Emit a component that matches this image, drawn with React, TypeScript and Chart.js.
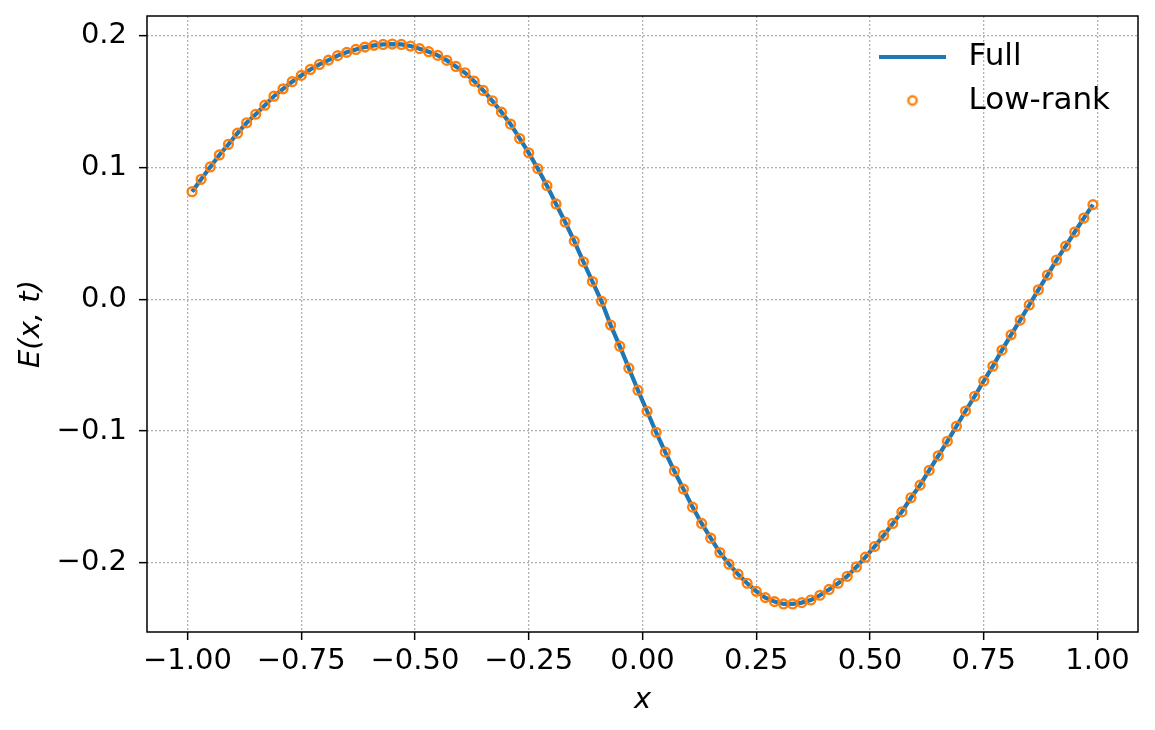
import React, { useEffect, useRef } from "react";
import { Chart, registerables } from "chart.js";

Chart.register(...registerables);

const xValues = [
  -0.99, -0.97, -0.95, -0.93, -0.91, -0.89, -0.87, -0.85, -0.83, -0.81,
  -0.79, -0.77, -0.75, -0.73, -0.71, -0.69, -0.67, -0.65, -0.63, -0.61,
  -0.59, -0.57, -0.55, -0.53, -0.51, -0.49, -0.47, -0.45, -0.43, -0.41,
  -0.39, -0.37, -0.35, -0.33, -0.31, -0.29, -0.27, -0.25, -0.23, -0.21,
  -0.19, -0.17, -0.15, -0.13, -0.11, -0.09, -0.07, -0.05, -0.03, -0.01,
  0.01, 0.03, 0.05, 0.07, 0.09, 0.11, 0.13, 0.15, 0.17, 0.19,
  0.21, 0.23, 0.25, 0.27, 0.29, 0.31, 0.33, 0.35, 0.37, 0.39,
  0.41, 0.43, 0.45, 0.47, 0.49, 0.51, 0.53, 0.55, 0.57, 0.59,
  0.61, 0.63, 0.65, 0.67, 0.69, 0.71, 0.73, 0.75, 0.77, 0.79,
  0.81, 0.83, 0.85, 0.87, 0.89, 0.91, 0.93, 0.95, 0.97, 0.99,
];

const fullValues = [
  0.0817, 0.0911, 0.1005, 0.1096, 0.1177, 0.1261, 0.134, 0.1405, 0.1474, 0.1542,
  0.1598, 0.1652, 0.17, 0.1745, 0.1783, 0.1816, 0.185, 0.1875, 0.1897, 0.1915,
  0.1928, 0.1935, 0.1938, 0.1935, 0.1923, 0.1903, 0.188, 0.1852, 0.1814, 0.1768,
  0.172, 0.1656, 0.1586, 0.1507, 0.1421, 0.133, 0.1221, 0.1112, 0.0992, 0.0863,
  0.0724, 0.0587, 0.0442, 0.0285, 0.0135, -0.0015, -0.0196, -0.0356, -0.0523, -0.069,
  -0.085, -0.101, -0.116, -0.1304, -0.1441, -0.1578, -0.1702, -0.1814, -0.1923, -0.2011,
  -0.2087, -0.2156, -0.2217, -0.2265, -0.2295, -0.2313, -0.2313, -0.2303, -0.2283, -0.2247,
  -0.2203, -0.2156, -0.2103, -0.2032, -0.1958, -0.1877, -0.1793, -0.1702, -0.1614, -0.1507,
  -0.1411, -0.1299, -0.1188, -0.1078, -0.0964, -0.0848, -0.0736, -0.062, -0.0508, -0.0386,
  -0.027, -0.0158, -0.0043, 0.0072, 0.0184, 0.0298, 0.0404, 0.0511, 0.0617, 0.0719,
];

const lowRankValues = [
  0.0817, 0.0911, 0.1005, 0.1096, 0.1177, 0.1261, 0.134, 0.1405, 0.1474, 0.1542,
  0.1598, 0.1652, 0.17, 0.1745, 0.1783, 0.1816, 0.185, 0.1875, 0.1897, 0.1915,
  0.1928, 0.1935, 0.1938, 0.1935, 0.1923, 0.1903, 0.188, 0.1852, 0.1814, 0.1768,
  0.172, 0.1656, 0.1586, 0.1507, 0.1421, 0.133, 0.1221, 0.1112, 0.0992, 0.0863,
  0.0724, 0.0587, 0.0442, 0.0285, 0.0135, -0.0015, -0.0196, -0.0356, -0.0523, -0.069,
  -0.085, -0.101, -0.116, -0.1304, -0.1441, -0.1578, -0.1702, -0.1814, -0.1923, -0.2011,
  -0.2087, -0.2156, -0.2217, -0.2265, -0.2295, -0.2313, -0.2313, -0.2303, -0.2283, -0.2247,
  -0.2203, -0.2156, -0.2103, -0.2032, -0.1958, -0.1877, -0.1793, -0.1702, -0.1614, -0.1507,
  -0.1411, -0.1299, -0.1188, -0.1078, -0.0964, -0.0848, -0.0736, -0.062, -0.0508, -0.0386,
  -0.027, -0.0158, -0.0043, 0.0072, 0.0184, 0.0298, 0.0404, 0.0511, 0.0617, 0.0719,
];

const xTickValues = [-1, -0.75, -0.5, -0.25, 0, 0.25, 0.5, 0.75, 1];
const yTickValues = [-0.2, -0.1, 0, 0.1, 0.2];
const seriesLabels = ["Full", "Low-rank"];
const xAxisLabel = "x";
const yAxisLabel = "E(x, t)";

const FONT = "'DejaVu Sans', sans-serif";
const BLUE = "#1f77b4";
const ORANGE = "#ff7f0e";

function fmt(v: number, digits: number): string {
  const s = Math.abs(v).toFixed(digits);
  return v < -1e-9 ? "\u2212" + s : s;
}

function makeLineImage(): HTMLCanvasElement {
  const c = document.createElement("canvas");
  c.width = 67;
  c.height = 4;
  const g = c.getContext("2d")!;
  g.fillStyle = BLUE;
  g.fillRect(0, 0, 67, 4);
  return c;
}

function makeCircleImage(): HTMLCanvasElement {
  const c = document.createElement("canvas");
  c.width = 14;
  c.height = 14;
  const g = c.getContext("2d")!;
  g.strokeStyle = ORANGE;
  g.lineWidth = 2.4;
  g.beginPath();
  g.arc(7, 7, 4.2, 0, Math.PI * 2);
  g.stroke();
  return c;
}

const framePlugin = {
  id: "frame",
  afterDatasetsDraw(chart: any) {
    const { ctx, chartArea: a } = chart;
    ctx.save();
    ctx.strokeStyle = "#000";
    ctx.lineWidth = 1.5;
    ctx.strokeRect(a.left, a.top, a.right - a.left, a.bottom - a.top);
    ctx.restore();
  },
};

const legendPlacer = {
  id: "legendPlacer",
  beforeDraw(chart: any) {
    const lg = chart.legend;
    if (!lg) return;
    const a = chart.chartArea;
    const w = lg.width;
    lg.left = a.right - 279;
    lg.right = lg.left + w;
    lg.top = a.top + 12;
    lg.bottom = lg.top + 300;
  },
};

const gridOpts = {
  color: "#b0b0b0",
  lineWidth: 1.3,
  tickColor: "#000",
  tickLength: 8,
  tickWidth: 1.5,
  tickBorderDash: [],
};

export default function App() {
  const ref = useRef<HTMLCanvasElement | null>(null);

  useEffect(() => {
    if (!ref.current) return;
    const lineImg = makeLineImage();
    const circleImg = makeCircleImage();
    const chart = new Chart(ref.current, {
      type: "line",
      data: {
        datasets: [
          {
            label: seriesLabels[0],
            data: xValues.map((x, i) => ({ x, y: fullValues[i] })),
            borderColor: BLUE,
            backgroundColor: BLUE,
            borderWidth: 4.2,
            pointRadius: 0,
            pointHoverRadius: 0,
            tension: 0,
            order: 2,
          },
          {
            label: seriesLabels[1],
            data: xValues.map((x, i) => ({ x, y: lowRankValues[i] })),
            showLine: false,
            borderColor: ORANGE,
            backgroundColor: "rgba(0,0,0,0)",
            pointRadius: 4.4,
            pointBorderWidth: 2.4,
            pointBorderColor: ORANGE,
            pointBackgroundColor: "rgba(0,0,0,0)",
            order: 1,
          },
        ],
      },
      options: {
        responsive: false,
        animation: false,
        devicePixelRatio: 1,
        layout: { padding: { left: 0, right: 17, top: 16, bottom: 0 } },
        plugins: {
          tooltip: { enabled: false },
          legend: {
            position: "chartArea" as any,
            align: "start",
            labels: {
              usePointStyle: true,
              pointStyleWidth: 81,
              padding: 13,
              color: "#000",
              font: { family: FONT, size: 31 },
              generateLabels: (c: any) =>
                c.data.datasets.map((ds: any, i: number) => ({
                  text: ds.label,
                  pointStyle: i === 0 ? lineImg : circleImg,
                  fillStyle: "rgba(0,0,0,0)",
                  strokeStyle: "rgba(0,0,0,0)",
                  lineWidth: 0,
                  hidden: false,
                  datasetIndex: i,
                  fontColor: "#000",
                })),
            },
          },
        },
        scales: {
          x: {
            type: "linear",
            min: -1.089,
            max: 1.089,
            afterBuildTicks: (s: any) => {
              s.ticks = xTickValues.map((v) => ({ value: v }));
            },
            afterFit: (s: any) => {
              s.height = 98;
              s.paddingLeft = 0;
              s.paddingRight = 0;
            },
            ticks: {
              callback: (v: any) => fmt(Number(v), 2),
              color: "#000",
              font: { family: FONT, size: 29 },
              padding: 4,
              maxRotation: 0,
              autoSkip: false,
            },
            grid: gridOpts,
            border: { display: false, dash: [2, 2] },
            title: {
              display: true,
              text: xAxisLabel,
              color: "#000",
              font: { family: FONT, size: 29, style: "italic" },
              padding: { top: 0, bottom: 12 },
            },
          },
          y: {
            type: "linear",
            min: -0.2526,
            max: 0.2151,
            afterBuildTicks: (s: any) => {
              s.ticks = yTickValues.map((v) => ({ value: v }));
            },
            afterFit: (s: any) => {
              s.width = 147;
              s.paddingTop = 0;
              s.paddingBottom = 0;
            },
            ticks: {
              callback: (v: any) => fmt(Number(v), 1),
              color: "#000",
              font: { family: FONT, size: 29 },
              padding: 12,
            },
            grid: gridOpts,
            border: { display: false, dash: [2, 2] },
            title: {
              display: true,
              text: yAxisLabel,
              color: "#000",
              font: { family: FONT, size: 29, style: "italic" },
              padding: { top: 14, bottom: 0 },
            },
          },
        },
      },
      plugins: [framePlugin, legendPlacer],
    });
    return () => chart.destroy();
  }, []);

  return (
    <div style={{ position: "absolute", left: 0, top: 0, width: 1155, height: 730, background: "#fff" }}>
      <canvas ref={ref} width={1155} height={730} style={{ width: 1155, height: 730 }} />
    </div>
  );
}
